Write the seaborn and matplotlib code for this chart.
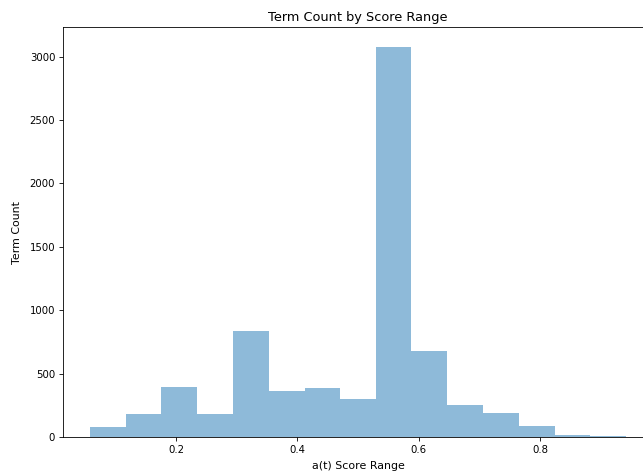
import numpy as np
import matplotlib
matplotlib.use("Agg")
import matplotlib.pyplot as plt
import seaborn as sns

# Histogram bins (15 equal bins)
bin_edges = [0.058, 0.117, 0.176, 0.235, 0.294, 0.353, 0.412, 0.471,
             0.530, 0.588, 0.647, 0.706, 0.765, 0.824, 0.883, 0.942]
term_counts = [81, 182, 392, 180, 835, 363, 389, 300,
               3080, 680, 252, 187, 89, 17, 4]

edges = np.array(bin_edges)
centers = (edges[:-1] + edges[1:]) / 2

# reference looks like a downscaled larger figure, so everything is a bit smaller
plt.rcParams.update({
    "xtick.labelsize": 7.3,
    "ytick.labelsize": 7.3,
    "xtick.major.size": 2.6,
    "ytick.major.size": 2.6,
    "xtick.major.pad": 3,
    "ytick.major.pad": 3,
    "axes.linewidth": 0.6,
    "xtick.major.width": 0.6,
    "ytick.major.width": 0.6,
})

fig = plt.figure(figsize=(6.43, 4.73), dpi=100)
# right edge of the axes sits just past the canvas, as in the reference
ax = fig.add_axes([63 / 643, 36 / 473, 590 / 643, 410 / 473])

sns.histplot(x=centers, weights=term_counts, bins=bin_edges,
             color="C0", alpha=0.5, linewidth=0, ax=ax)

ax.set_title("Term Count by Score Range", fontsize=9.3, pad=4)
ax.set_xlabel("a(t) Score Range", fontsize=7.9, labelpad=4.5)
ax.set_ylabel("Term Count", fontsize=7.9, labelpad=5.5)

fig.savefig("out.png", dpi=100)
